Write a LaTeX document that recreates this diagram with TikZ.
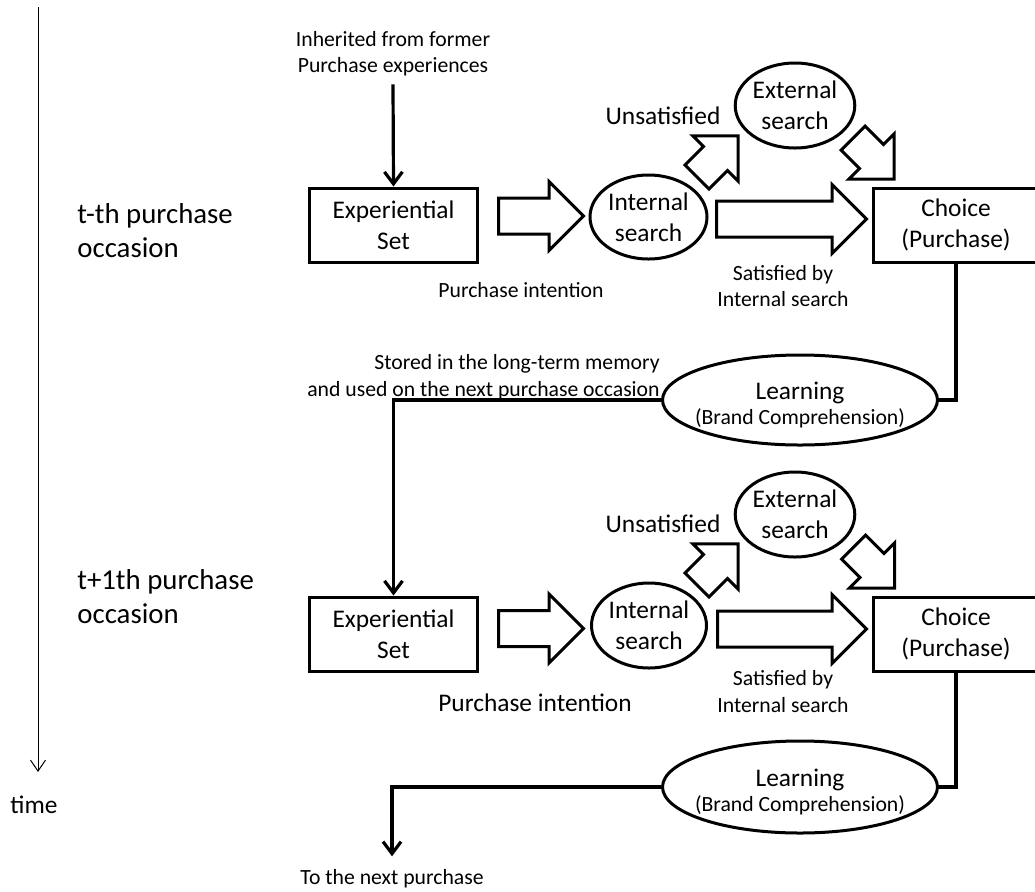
\documentclass[tikz,border=0pt]{standalone}
\usepackage{fontspec}
\setmainfont{Carlito}
\usetikzlibrary{arrows.meta,shapes.geometric,shapes.arrows}
\newcommand{\mainfs}{\fontsize{12.7}{15.5}\selectfont}
\newcommand{\notefs}{\fontsize{10.85}{13.2}\selectfont}
\newcommand{\sidefs}{\fontsize{14.4}{17}\selectfont}

\begin{document}
\begin{tikzpicture}[x=0.5pt,y=-0.5pt,
   bx/.style={rectangle,draw=black,line width=1.5pt,minimum width=84pt,minimum height=37pt,inner sep=0pt,align=center,font=\mainfs},
   el/.style={ellipse,draw=black,line width=1.5pt,inner sep=0pt,align=center,font=\mainfs},
   lrn/.style={el,inner xsep=-6pt,minimum width=137.5pt,minimum height=45pt},
   barr/.style={single arrow,draw=black,fill=white,line width=1.5pt,single arrow tip angle=90,inner sep=0pt,inner ysep=8.25pt,single arrow head extend=8.25pt,anchor=tail},
   sarr/.style={barr,inner ysep=7.75pt,single arrow head extend=7.5pt,minimum height=29pt},
   note/.style={align=center,font=\notefs},
   lbl/.style={align=center,font=\mainfs},
   link/.style={line width=1.6pt},
   flow/.style={link,-{Straight Barb[length=6pt,width=9pt]}}]
   \useasboundingbox (0,0) rectangle (1035,891);
   \clip (0,0) rectangle (1035,891);

   % time axis
   \coordinate (t0) at (38,7);
   \coordinate (t1) at (38,772);
   \draw[line width=0.5pt,-{Straight Barb[length=5.5pt,width=7.5pt]}] (t0) -- (t1);
   \node (time) at (34,805) [lbl] {time};
   \node (occ1) at (77,231) [anchor=west,inner sep=0pt,align=left,font=\sidefs] {t-th purchase\\occasion};
   \node (occ2) at (77,597) [anchor=west,inner sep=0pt,align=left,font=\sidefs] {t+1th purchase\\occasion};

   % t-th occasion
   \path (393,53.5)   node (inh) [note,inner sep=4pt] {Inherited from former\\Purchase experiences}
         (393.5,225)  node (ex1) [bx] {Experiential\\Set}
         (497,216)    node (pa1) [barr,minimum height=42.5pt] {}
         (521,290)    node (pi1) [note] {Purchase intention}
         (648.5,217)  node (is1) [el,minimum width=58.5pt,minimum height=42pt] {Internal\\search}
         (715,219)    node (sa1) [barr,minimum height=75pt] {}
         (956,225)    node (ch1) [bx,minimum width=83pt] {Choice\\(Purchase)}
         (783,286)    node (sat1) [note] {Satisfied by\\Internal search}
         (663,116)    node (un1) [lbl] {Unsatisfied}
         (795,105.5)  node (es1) [el,minimum width=58.5pt,minimum height=42.5pt] {External\\search}
         (696,178)    node (up1) [sarr,rotate=45] {}
         (852,137)    node (dn1) [sarr,rotate=-45] {}
         (800,400)    node (le1) [lrn] {\rule{0pt}{14pt}Learning\\[-3pt]{\notefs (Brand Comprehension)}}
         (660,400)    node (mem) [note,anchor=south east,inner sep=0pt,align=right] {Stored in the long-term memory\\and used on the next purchase occasion};
   \draw[flow] (inh.south) -- (ex1.north);
   \draw[link] (ch1.south) |- (le1.east);

   % t+1th occasion
   \path (393.5,634)  node (ex2) [bx] {Experiential\\Set}
         (497,628.5)  node (pa2) [barr,minimum height=42.5pt] {}
         (535,702.5)  node (pi2) [lbl] {Purchase intention}
         (649,625.5)  node (is2) [el,minimum width=57.5pt,minimum height=42.5pt] {Internal\\search}
         (716,629)    node (sa2) [barr,minimum height=74.5pt] {}
         (956,634)    node (ch2) [bx,minimum width=83pt] {Choice\\(Purchase)}
         (783,691.5)  node (sat2) [note] {Satisfied by\\Internal search}
         (663,524)    node (un2) [lbl] {Unsatisfied}
         (795,514.5)  node (es2) [el,minimum width=58.5pt,minimum height=42.5pt] {External\\search}
         (696,586)    node (up2) [sarr,rotate=45] {}
         (852.5,546)  node (dn2) [sarr,rotate=-45] {}
         (800,787)    node (le2) [lrn,minimum height=46pt] {\rule{0pt}{14pt}Learning\\[-3pt]{\notefs (Brand Comprehension)}}
         (392,879)    node (nxt) [note,inner sep=6.5pt] {To the next purchase};
   \draw[flow] (le1.west) -| (ex2.north);
   \draw[link] (ch2.south) |- (le2.east);
   \draw[flow] (le2.west) -| (nxt.north);
\end{tikzpicture}
\end{document}
